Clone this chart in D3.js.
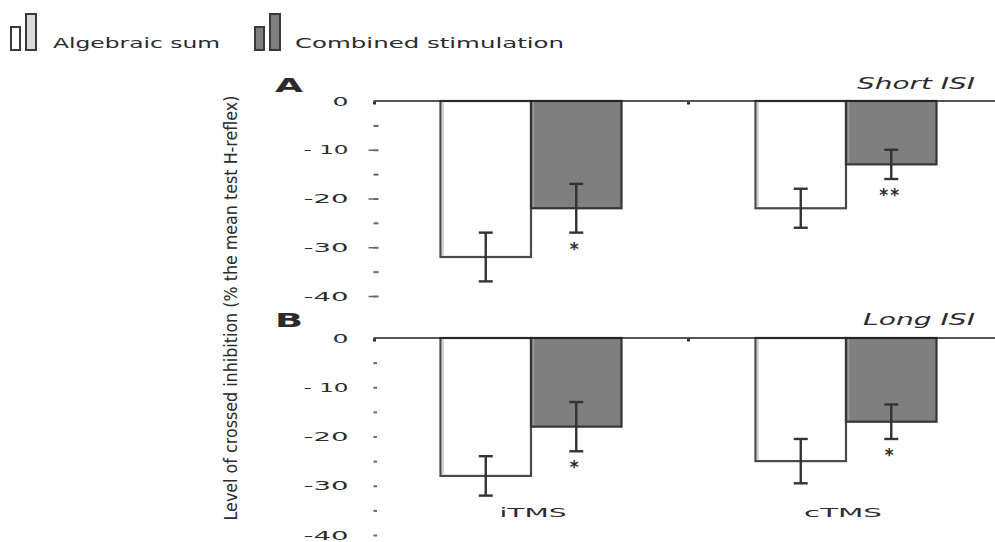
<!DOCTYPE html>
<html>
<head>
<meta charset="utf-8">
<script src="https://cdn.jsdelivr.net/npm/d3@7"></script>
<style>
  html, body { margin: 0; padding: 0; background: #fff; }
  svg { display: block; }
  text { font-family: "DejaVu Sans", Verdana, sans-serif; fill: #2b2b2b; }
</style>
</head>
<body>
<svg id="chart" width="995" height="542"></svg>
<script>
// ---------- data ----------
const categories = ["iTMS", "cTMS"];
const series = ["Algebraic sum", "Combined stimulation"];

const shortAlgebraic    = [-32, -22];
const shortAlgebraicErr = [5, 4];
const shortCombined     = [-22, -13];
const shortCombinedErr  = [5, 3];
const shortSig          = ["*", "**"];

const longAlgebraic     = [-28, -25];
const longAlgebraicErr  = [4, 4.5];
const longCombined      = [-18, -17];
const longCombinedErr   = [5, 3.5];
const longSig           = ["*", "*"];

const yTicks      = [0, -10, -20, -30, -40];
const yTickLabels = ["0", "- 10", "-20", "-30", "-40"];
const yMinorTicks = [0, -5, -10, -15, -20, -25, -30, -35, -40];

const panelLetters = ["A", "B"];
const panelTitles  = ["Short ISI", "Long ISI"];
const yTitle = "Level of crossed inhibition (% the mean test H-reflex)";

// ---------- layout ----------
const svg = d3.select("#chart");
const axisX = 373.5;
const x0 = d3.scaleBand().domain(categories).range([axisX, 1003.5]).padding(0);
const x1 = d3.scaleBand().domain(series).range([67, 248]);
const fills   = { "Algebraic sum": "#ffffff", "Combined stimulation": "#7f7f7f" };
const strokes = { "Algebraic sum": "#4a4a4a", "Combined stimulation": "#363636" };

const panels = [
  { letter: panelLetters[0], title: panelTitles[0], range: [296, 101], letterY: 92, titleY: 89,
    alg: shortAlgebraic, algErr: shortAlgebraicErr, comb: shortCombined, combErr: shortCombinedErr,
    sig: shortSig, majorTicks: true },
  { letter: panelLetters[1], title: panelTitles[1], range: [535, 338], letterY: 327, titleY: 325,
    alg: longAlgebraic, algErr: longAlgebraicErr, comb: longCombined, combErr: longCombinedErr,
    sig: longSig, majorTicks: false }
];

panels.forEach((p, pi) => {
  const y = d3.scaleLinear().domain([-40, 0]).range(p.range);
  const g = svg.append("g");

  const rows = categories.map((c, i) => ([
    { cat: c, s: series[0], v: p.alg[i], e: p.algErr[i] },
    { cat: c, s: series[1], v: p.comb[i], e: p.combErr[i] }
  ])).flat();

  // bars
  g.selectAll("rect.bar").data(rows).join("rect")
    .attr("class", "bar")
    .attr("x", d => x0(d.cat) + x1(d.s))
    .attr("width", x1.bandwidth())
    .attr("y", y(0))
    .attr("height", d => y(d.v) - y(0))
    .attr("fill", d => fills[d.s])
    .attr("stroke", d => strokes[d.s])
    .attr("stroke-width", 2.2);

  // inner light edge for 3D look
  g.selectAll("line.edge").data(rows).join("line")
    .attr("class", "edge")
    .attr("x1", d => x0(d.cat) + x1(d.s) + 2.5)
    .attr("x2", d => x0(d.cat) + x1(d.s) + 2.5)
    .attr("y1", y(0) + 1)
    .attr("y2", d => y(d.v) - 1.5)
    .attr("stroke", d => d.s === series[0] ? "#c4c4c4" : "#9a9a9a")
    .attr("stroke-width", 1.5);

  // error bars
  const cx = d => x0(d.cat) + x1(d.s) + x1.bandwidth() / 2;
  const eb = g.selectAll("g.err").data(rows).join("g").attr("class", "err")
    .attr("stroke", "#333").attr("stroke-width", 2.4);
  eb.append("line").attr("x1", cx).attr("x2", cx)
    .attr("y1", d => y(d.v + d.e)).attr("y2", d => y(d.v - d.e));
  eb.append("line").attr("x1", d => cx(d) - 7).attr("x2", d => cx(d) + 7)
    .attr("y1", d => y(d.v + d.e)).attr("y2", d => y(d.v + d.e));
  eb.append("line").attr("x1", d => cx(d) - 7).attr("x2", d => cx(d) + 7)
    .attr("y1", d => y(d.v - d.e)).attr("y2", d => y(d.v - d.e));

  // significance markers under combined bars
  const sigRows = rows.filter(d => d.s === series[1]).map((d, i) => ({ ...d, sig: p.sig[i] }));
  g.selectAll("text.sig").data(sigRows).join("text")
    .attr("class", "sig")
    .attr("x", d => cx(d) - 1)
    .attr("y", d => y(d.v - d.e) + 22)
    .attr("text-anchor", "middle")
    .attr("font-size", 17)
    .attr("font-weight", "bold")
    .attr("letter-spacing", 2)
    .attr("fill", "#333")
    .text(d => d.sig);

  // zero line
  g.append("line")
    .attr("x1", axisX).attr("x2", 995)
    .attr("y1", y(0)).attr("y2", y(0))
    .attr("stroke", "#1e1e1e").attr("stroke-width", 1.6);

  // category boundary tick
  g.append("rect")
    .attr("x", x0(categories[1]) - 1.5).attr("y", y(0) + 0.5)
    .attr("width", 3).attr("height", 3).attr("fill", "#333");
  g.append("rect")
    .attr("x", axisX - 0.5).attr("y", y(0) + 0.5)
    .attr("width", 3).attr("height", 3).attr("fill", "#333");

  // minor ticks
  const minorAxis = d3.axisRight(y).tickValues(yMinorTicks.filter(v => v !== 0)).tickSize(p.majorTicks ? 5 : 3.5).tickFormat("");
  const ma = g.append("g").attr("transform", `translate(${axisX},0)`).call(minorAxis);
  ma.select(".domain").remove();
  ma.selectAll(".tick line").attr("stroke", "#666").attr("stroke-width", 2);

  // major ticks (panel A shows short dashes)
  if (p.majorTicks) {
    const majAxis = d3.axisLeft(y).tickValues(yTicks.filter(v => v !== 0)).tickSize(6).tickFormat("");
    const mj = g.append("g").attr("transform", `translate(${axisX + 1},0)`).call(majAxis);
    mj.select(".domain").remove();
    mj.selectAll(".tick line").attr("stroke", "#666").attr("stroke-width", 1.5);
  }

  // tick labels
  const labAxis = d3.axisLeft(y).tickValues(yTicks).tickSize(0).tickPadding(25)
    .tickFormat((d, i) => yTickLabels[i]);
  const la = g.append("g").attr("transform", `translate(${axisX},0)`).call(labAxis);
  la.select(".domain").remove();
  la.selectAll(".tick text")
    .attr("font-family", "'DejaVu Sans', sans-serif")
    .attr("font-size", 13)
    .attr("fill", "#333")
    .attr("textLength", (d) => d === 0 ? 16 : 45)
    .attr("lengthAdjust", "spacingAndGlyphs");

  // panel letter
  g.append("text")
    .attr("x", 275).attr("y", p.letterY)
    .attr("font-size", 20).attr("font-weight", "bold")
    .attr("fill", "#111")
    .attr("textLength", 28).attr("lengthAdjust", "spacingAndGlyphs")
    .text(p.letter);

  // panel title (italic, right)
  g.append("text")
    .attr("x", 975).attr("y", p.titleY)
    .attr("text-anchor", "end")
    .attr("font-size", 16).attr("font-style", "italic")
    .attr("fill", "#333")
    .attr("textLength", pi === 0 ? 118 : 112).attr("lengthAdjust", "spacingAndGlyphs")
    .text(p.title);

  // category labels (bottom panel only)
  if (pi === 1) {
    g.selectAll("text.cat").data(categories).join("text")
      .attr("class", "cat")
      .attr("x", d => x0(d) + x0.bandwidth() / 2 + (d === "iTMS" ? 2 : -3))
      .attr("y", 517)
      .attr("text-anchor", "middle")
      .attr("font-size", 13)
      .attr("fill", "#333")
      .attr("textLength", d => d === "iTMS" ? 67 : 78)
      .attr("lengthAdjust", "spacingAndGlyphs")
      .text(d => d);
  }
});

// y-axis title
svg.append("text")
  .attr("transform", "translate(237,308) rotate(-90)")
  .attr("text-anchor", "middle")
  .attr("font-family", "'Liberation Sans Narrow', 'Liberation Sans', sans-serif")
  .attr("font-size", 17)
  .attr("fill", "#333")
  .attr("textLength", 425).attr("lengthAdjust", "spacingAndGlyphs")
  .text(yTitle);

// ---------- legend ----------
const legend = svg.append("g");
const legendItems = [
  { s: series[0], x: 11, textX: 53, w: 167, inner: ["#ffffff", "#dcdcdc"] },
  { s: series[1], x: 255, textX: 295, w: 269, inner: ["#7f7f7f", "#7f7f7f"] }
];
legendItems.forEach(it => {
  legend.append("rect").attr("x", it.x).attr("y", 27).attr("width", 9).attr("height", 23)
    .attr("fill", it.inner[0]).attr("stroke", "#3a3a3a").attr("stroke-width", 2);
  legend.append("rect").attr("x", it.x + 15).attr("y", 14).attr("width", 10).attr("height", 36)
    .attr("fill", it.inner[1]).attr("stroke", "#3a3a3a").attr("stroke-width", 2);
  legend.append("text")
    .attr("x", it.textX).attr("y", 48)
    .attr("font-size", 14).attr("fill", "#333")
    .attr("textLength", it.w).attr("lengthAdjust", "spacingAndGlyphs")
    .text(it.s);
});
</script>
</body>
</html>
